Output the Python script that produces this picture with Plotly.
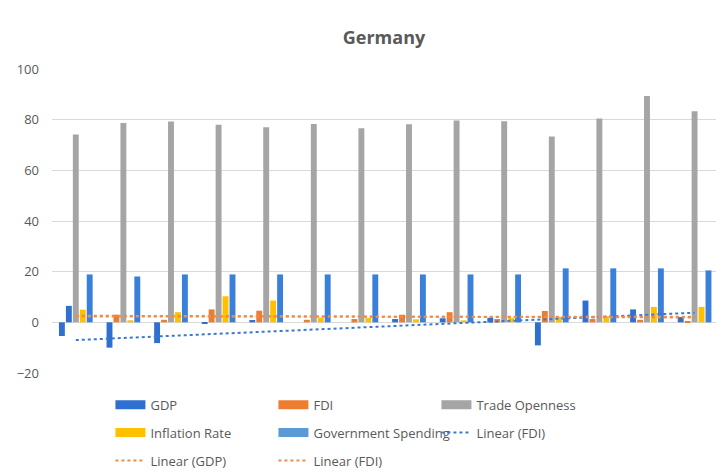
import plotly.graph_objects as go

years = [str(y) for y in range(2010, 2024)]

gdp = [-5.4, -10.0, -8.2, -0.5, 0.9, 0.0, 0.0, 1.3, 1.6, 1.8, -9.1, 8.6, 5.1, 2.1]
fdi = [6.5, 3.0, 1.0, 5.1, 4.6, 1.0, 1.3, 3.0, 4.0, 1.3, 4.5, 1.3, 1.0, 0.4]
trade_openness = [74.1, 78.7, 79.3, 78.0, 77.0, 78.3, 76.6, 78.2, 79.7, 79.4, 73.4, 80.5, 89.3, 83.3]
inflation = [5.0, 0.8, 4.0, 10.3, 8.6, 1.8, 1.7, 1.2, 0.8, 1.7, 2.1, 2.4, 6.1, 6.1]
gov_spending = [18.9, 18.1, 18.9, 18.9, 18.9, 18.9, 18.9, 18.9, 18.9, 18.9, 21.3, 21.3, 21.3, 20.5]

# trendline end values (first and last year)
trend_blue = [-7.0, 3.8]
trend_gdp = [2.6, 1.9]
trend_fdi = [2.3, 2.2]

C_GDP = "#2F6FD0"
C_FDI = "#ED7D31"
C_TRADE = "#A5A5A5"
C_INFL = "#FFC000"
C_GOV = "#3A80DA"
C_GOV_LEG = "#5B9BD5"
C_TREND_BLUE = "#3A78D0"
C_TREND_OR = "#F08C45"
TXT = "#595959"

fdi_colors = [C_GDP] + [C_FDI] * (len(years) - 1)

fig = go.Figure()

bars = [
    ("GDP", gdp, C_GDP),
    ("FDI", fdi, fdi_colors),
    ("Trade Openness", trade_openness, C_TRADE),
    ("Inflation Rate", inflation, C_INFL),
    ("Government Spending", gov_spending, C_GOV),
]
for name, vals, col in bars:
    fig.add_trace(go.Bar(x=years, y=vals, name=name, marker_color=col,
                         marker_line_width=0, showlegend=False, legendgroup=name))

# wide swatches for the legend
swatches = [
    ("GDP", C_GDP, "legend"),
    ("FDI", C_FDI, "legend"),
    ("Trade Openness", C_TRADE, "legend"),
    ("Inflation Rate", C_INFL, "legend2"),
    ("Government Spending", C_GOV_LEG, "legend2"),
]
for name, col, leg in swatches:
    fig.add_trace(go.Scatter(x=[None], y=[None], mode="lines", name=name,
                             line=dict(color=col, width=9), legend=leg,
                             legendgroup=name, hoverinfo="skip"))

ends = [years[0], years[-1]]
fig.add_trace(go.Scatter(x=ends, y=trend_blue, mode="lines", name="Linear (FDI)",
                         line=dict(color=C_TREND_BLUE, width=2, dash="dot"), legend="legend2"))
fig.add_trace(go.Scatter(x=ends, y=trend_gdp, mode="lines", name="Linear (GDP)",
                         line=dict(color=C_TREND_OR, width=2, dash="dot"), legend="legend3"))
fig.add_trace(go.Scatter(x=ends, y=trend_fdi, mode="lines", name="Linear (FDI)",
                         line=dict(color=C_TREND_OR, width=2, dash="dot"), legend="legend3"))

# category labels sit just below the zero line
for y in years:
    fig.add_annotation(x=y, y=0, xref="x", yref="y", text=y, showarrow=False,
                       yanchor="middle", yshift=-31,
                       font=dict(size=14, color=TXT, family="Open Sans"))

leg_common = dict(orientation="h", xanchor="left", yanchor="middle",
                  entrywidth=118, entrywidthmode="pixels",
                  font=dict(size=13, color=TXT, family="Open Sans"),
                  bgcolor="rgba(0,0,0,0)", itemwidth=30, tracegroupgap=0)

fig.update_layout(
    width=716, height=476,
    margin=dict(l=52, r=0, t=69, b=101),
    paper_bgcolor="white", plot_bgcolor="white",
    barmode="group", bargap=0.27, bargroupgap=0.15,
    title=dict(text="<b>Germany</b>", x=0.5, xref="paper", y=0.92, yanchor="middle",
               font=dict(size=18, color=TXT, family="Open Sans")),
    xaxis=dict(type="category", range=[-0.5, 13.45], showticklabels=False,
               showgrid=False, zeroline=False, showline=False, ticks=""),
    yaxis=dict(range=[-20, 100], dtick=20, showgrid=True, gridcolor="#D9D9D9",
               gridwidth=1, zeroline=True, zerolinecolor="#D9D9D9", zerolinewidth=1,
               showline=False, ticks="", ticklabelstandoff=12,
               tickfont=dict(size=13, color=TXT, family="Open Sans")),
    legend=dict(x=0.088, y=-0.105, **leg_common),
    legend2=dict(x=0.088, y=-0.196, **leg_common),
    legend3=dict(x=0.088, y=-0.288, **leg_common),
    font=dict(family="Open Sans", color=TXT),
)

fig.write_html("out.html")
